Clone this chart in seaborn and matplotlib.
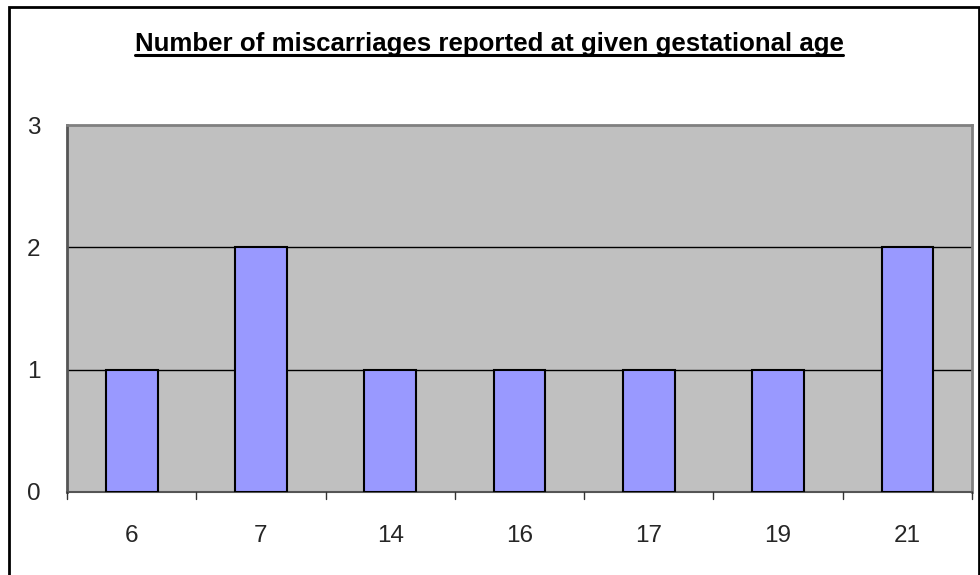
import matplotlib
matplotlib.use("Agg")
import matplotlib.pyplot as plt
import seaborn as sns
import pandas as pd
from matplotlib.lines import Line2D
from matplotlib.patches import Rectangle

# data
weeks = ["6", "7", "14", "16", "17", "19", "21"]
counts = [1, 2, 1, 1, 1, 1, 2]

df = pd.DataFrame({"week": weeks, "count": counts})

sns.set_style("white")
plt.rcParams["font.family"] = ["Liberation Sans", "DejaVu Sans"]

W, H = 980, 575
fig = plt.figure(figsize=(W / 100, H / 100), dpi=100)
ax = fig.add_axes([67 / W, 1 - 492 / H, (972 - 67) / W, (492 - 125) / H])
ax.set_facecolor("#c0c0c0")

sns.barplot(data=df, x="week", y="count", ax=ax, color="#9999ff",
            saturation=1, width=0.4, edgecolor="black", linewidth=1.5, zorder=3)

ax.set_ylim(0, 3)
ax.set_xlim(-0.5, len(weeks) - 0.5)
ax.set_yticks([0, 1, 2, 3])
ax.set_xlabel("")
ax.set_ylabel("")

# gridlines
for v in [1, 2]:
    ax.axhline(v, color="black", linewidth=1, zorder=2)

# x ticks at category boundaries, labels centered
ax.set_xticks(range(len(weeks)))
ax.set_xticklabels(weeks)
ax.tick_params(axis="x", length=0, pad=24, labelsize=17.5)
for b in [i - 0.5 for i in range(len(weeks) + 1)]:
    ax.plot([b, b], [0, -0.06], color="#333333", linewidth=1, clip_on=False, zorder=4)
ax.tick_params(axis="y", length=7, width=1, color="#333333", pad=12, labelsize=17.5)

for side in ["top", "right"]:
    ax.spines[side].set_color("#808080")
    ax.spines[side].set_linewidth(2)
ax.spines["left"].set_color("#555555")
ax.spines["left"].set_linewidth(2)
ax.spines["bottom"].set_color("#555555")
ax.spines["bottom"].set_linewidth(1.5)

# title with underline
title = fig.text(489 / W, 1 - 44 / H, "Number of miscarriages reported at given gestational age",
                 ha="center", va="center", fontsize=18.6, fontweight="bold", color="black")
fig.canvas.draw()
bb = title.get_window_extent()
uy = (bb.y0 + 1) / H
fig.add_artist(Line2D([bb.x0 / W, bb.x1 / W], [uy, uy], color="black", linewidth=2.2,
                      transform=fig.transFigure))

# outer chart frame
fig.add_artist(Rectangle((9 / W, -0.05), (979 - 9) / W, 1.05 - 7 / H, fill=False,
                         edgecolor="black", linewidth=2, transform=fig.transFigure))

fig.savefig("out.png", dpi=100)
